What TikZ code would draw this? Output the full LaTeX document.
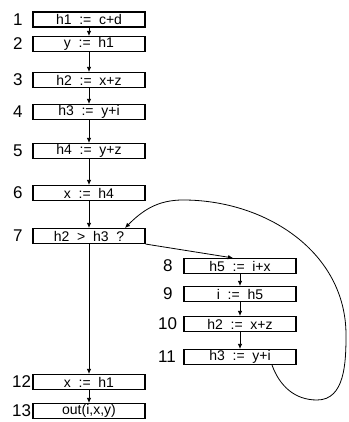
\documentclass[tikz,border=0pt]{standalone}
\usepackage{fontspec}
\setmainfont{Liberation Sans}
\usetikzlibrary{arrows.meta}
\begin{document}
\begin{tikzpicture}[x=1pt,y=1pt,
  stmt/.style={draw, line width=1.1pt, minimum width=112pt, minimum height=15pt, inner sep=0pt, font=\fontsize{14}{14}\selectfont},
  lbl/.style={anchor=west, inner sep=0pt, font=\fontsize{17}{17}\selectfont},
  flow/.style={line width=0.8pt, -{Latex[length=5pt,width=4.5pt]}}]
\useasboundingbox (0,0) rectangle (348,422);
\def\sp{\hspace{0.55em}}
% left column
\node[stmt] (b1) at (89,402.5) {h1\sp:=\sp c+d};
\node[stmt] (b2) at (89,378) {y\sp:=\sp h1};
\node[stmt] (b3) at (89,342) {h2\sp:=\sp x+z};
\node[stmt] (b4) at (89,310) {h3\sp:=\sp y+i};
\node[stmt] (b5) at (89,271) {h4\sp:=\sp y+z};
\node[stmt] (b6) at (89,229) {x\sp:=\sp h4};
\node[stmt] (b7) at (89,186) {h2\sp>\sp h3\sp?};
\node[stmt] (b12) at (89,40) {x\sp:=\sp h1};
\node[stmt] (b13) at (89,11) {out(i,x,y)};
% right column
\node[stmt] (b8) at (240,156) {h5\sp:=\sp i+x};
\node[stmt] (b9) at (240,128) {i\sp:=\sp h5};
\node[stmt] (b10) at (240,98) {h2\sp:=\sp x+z};
\node[stmt] (b11) at (240,65) {h3\sp:=\sp y+i};
% labels
\node[lbl] (l1) at (13,402.5) {1};
\node[lbl] (l2) at (13,378) {2};
\node[lbl] (l3) at (13,342) {3};
\node[lbl] (l4) at (13,310) {4};
\node[lbl] (l5) at (13,271) {5};
\node[lbl] (l6) at (13,229) {6};
\node[lbl] (l7) at (13,186) {7};
\node[lbl] (l12) at (12,40) {12};
\node[lbl] (l13) at (12,11) {13};
\node[lbl] (l8) at (163,156) {8};
\node[lbl] (l9) at (163,128) {9};
\node[lbl] (l10) at (158,98) {10};
\node[lbl] (l11) at (158,65) {11};
% arrows
\draw[flow] (b1) -- (b2);
\draw[flow] (b2) -- (b3);
\draw[flow] (b3) -- (b4);
\draw[flow] (b4) -- (b5);
\draw[flow] (b5) -- (b6);
\draw[flow] (b6) -- (b7);
\draw[flow] (b7) -- (b12);
\draw[flow] (b12) -- (b13);
\draw[flow] (b8) -- (b9);
\draw[flow] (b9) -- (b10);
\draw[flow] (b10) -- (b11);
\draw[flow] (b7.south east) -- ([xshift=-7pt]b8.north);
\coordinate (lb) at (317,22);
\coordinate (lr) at (346,87);
\coordinate (lt) at (183,222);
\draw[flow] ([xshift=32pt]b11.south) to[out=-70,in=180] (lb) to[out=0,in=-90] (lr) to[out=90,in=0] (lt) to[out=180,in=45] ([xshift=36pt]b7.north);
\end{tikzpicture}
\end{document}
